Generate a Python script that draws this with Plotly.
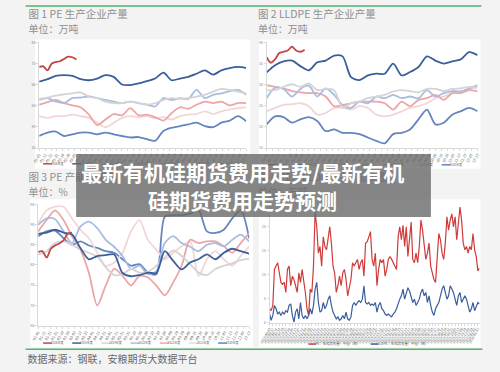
import plotly.graph_objects as go
import pandas as pd

# ---------------- data ----------------
years = ["2026年度", "2025年度", "2024年度", "2023年度", "2022年度", "2021年度", "2020年度"]
year_colors = ["#c24646", "#3c5e9b", "#d4d4d4", "#a9bde0", "#eda5a5", "#f2d6d6", "#6585bf"]

# Fig 1: PE production (万吨), biweekly (2026 weekly)
pe_2026 = [68.4, 68.7, 66.8, 69.9, 70.7, 71.1, 72.2, 73.3, 73.0, 71.9]
pe_2025 = [61.4, 62.6, 64.2, 64.5, 64.2, 62.6, 62.1, 62.9, 64.5, 63.7, 60.1, 59.8, 60.6, 61.7, 62.9, 65.7, 62.1, 62.9, 63.7, 65.2, 66.8, 64.8, 66.8, 67.9, 68.4, 67.9]
pe_2024 = [53.3, 53.9, 54.8, 55.4, 55.9, 56.4, 54.4, 53.6, 52.0, 51.3, 51.3, 52.0, 51.3, 50.5, 51.3, 52.8, 53.6, 53.3, 53.6, 54.4, 55.2, 56.7, 58.0, 57.5, 56.7, 55.9]
pe_2023 = [52.8, 53.6, 52.0, 51.3, 53.6, 53.9, 54.4, 53.6, 52.8, 52.0, 51.3, 52.0, 51.3, 50.5, 49.7, 53.6, 52.8, 53.6, 53.3, 57.5, 53.6, 55.2, 55.9, 57.0, 57.5, 55.2]
pe_2022 = [50.5, 51.7, 52.8, 51.3, 50.2, 49.3, 45.8, 40.9, 43.5, 46.1, 45.5, 48.9, 45.5, 45.8, 44.6, 43.0, 46.6, 49.3, 48.6, 50.5, 52.0, 51.3, 52.0, 50.2, 51.3, 51.3]
pe_2021 = [45.1, 44.3, 45.1, 45.1, 45.8, 45.1, 44.3, 42.0, 39.9, 42.0, 44.3, 45.1, 44.6, 45.1, 44.0, 44.6, 43.5, 45.1, 45.8, 46.1, 47.4, 46.1, 47.4, 48.2, 48.9, 49.3]
pe_2020 = [35.7, 37.3, 37.8, 35.7, 36.5, 37.3, 37.3, 36.5, 37.3, 36.5, 35.7, 35.0, 35.2, 34.2, 33.4, 38.1, 39.6, 40.4, 41.2, 42.0, 40.4, 39.9, 42.0, 43.0, 45.1, 42.7]

# Fig 2: LLDPE production (万吨)
ll_2026 = [36.5, 35.2, 36.0, 37.5, 37.8, 38.1, 39.0, 38.1, 37.8, 38.3]
ll_2025 = [32.9, 34.6, 35.5, 35.7, 34.4, 33.4, 35.3, 35.7, 36.9, 36.7, 31.8, 31.1, 32.2, 32.6, 32.6, 35.0, 32.2, 33.0, 34.2, 36.7, 35.7, 35.0, 35.5, 36.0, 37.7, 37.0]
ll_2024 = [28.7, 28.7, 29.5, 30.1, 29.5, 30.3, 28.7, 29.0, 28.7, 24.6, 25.6, 26.0, 26.8, 27.2, 27.6, 28.4, 28.7, 28.5, 28.2, 29.0, 29.0, 28.5, 29.0, 29.1, 29.5, 29.3]
ll_2023 = [26.8, 29.3, 29.0, 27.2, 29.0, 29.8, 27.2, 29.1, 27.6, 25.2, 24.5, 26.0, 25.6, 27.2, 26.8, 27.6, 26.8, 27.2, 26.8, 28.7, 27.2, 28.0, 28.5, 28.4, 29.1, 29.9]
ll_2022 = [29.9, 29.5, 29.1, 28.5, 28.2, 28.0, 28.0, 27.2, 24.9, 25.2, 25.6, 26.0, 26.0, 26.0, 25.6, 24.1, 26.0, 24.9, 26.4, 26.8, 27.6, 26.4, 28.0, 28.0, 28.7, 28.4]
ll_2021 = [23.7, 24.5, 25.2, 25.4, 25.6, 24.9, 22.9, 23.3, 24.5, 24.5, 24.1, 24.9, 24.5, 22.9, 22.5, 22.9, 23.7, 24.5, 24.9, 25.6, 26.8, 27.2, 28.0, 28.4, 29.0, 29.3]
ll_2020 = [20.6, 22.5, 22.3, 21.0, 21.8, 22.3, 21.4, 19.0, 19.4, 18.6, 18.6, 18.3, 17.5, 16.7, 16.1, 18.3, 18.6, 19.4, 21.8, 24.1, 20.6, 21.0, 22.9, 23.7, 24.5, 23.7]

# Fig 3: PE capacity utilisation (%)
ut_2026 = [83.2, 83.4, 81.8, 84.0, 84.8, 85.3, 86.1, 87.7, 88.0]
ut_2025 = [87.7, 88.0, 88.7, 88.0, 87.5, 84.2, 81.4, 82.2, 82.4, 82.6, 78.0, 77.2, 77.5, 78.1, 78.0, 83.4, 81.0, 78.9, 80.6, 81.4, 82.6, 81.4, 83.0, 84.0, 83.4, 82.8]
ut_2024 = [82.6, 83.4, 85.4, 85.8, 85.0, 83.8, 83.0, 82.0, 79.4, 77.5, 77.7, 79.0, 78.1, 78.3, 79.8, 81.8, 83.6, 82.2, 80.2, 78.1, 77.5, 79.0, 79.8, 80.4, 81.2, 81.5]
ut_2023 = [89.9, 91.5, 91.3, 88.3, 85.4, 89.5, 90.7, 89.1, 86.2, 84.5, 82.2, 79.0, 79.8, 77.7, 78.5, 85.4, 87.1, 85.4, 84.5, 83.4, 85.0, 85.4, 84.6, 86.2, 87.5, 85.8]
ut_2022 = [88.3, 91.1, 93.5, 91.1, 87.1, 83.8, 78.1, 70.0, 74.9, 79.0, 77.3, 74.9, 77.3, 76.9, 74.9, 72.5, 75.7, 79.8, 86.2, 85.4, 85.8, 85.8, 84.6, 83.0, 85.4, 87.9]
ut_2021 = [90.3, 93.5, 94.4, 94.4, 91.5, 88.7, 86.6, 83.0, 79.8, 80.6, 83.0, 88.3, 91.1, 86.2, 83.8, 81.4, 83.0, 84.6, 85.8, 77.3, 81.4, 83.4, 81.4, 79.8, 82.2, 84.6]
ut_2020 = [87.1, 88.3, 88.5, 86.6, 85.0, 85.8, 84.8, 84.2, 83.4, 83.0, 81.4, 79.8, 80.2, 78.1, 77.7, 91.9, 92.3, 92.3, 92.7, 93.5, 88.3, 87.9, 88.7, 91.5, 93.5, 86.6]

# Fig 4: maintenance loss (weekly)
loss_names = ["PE：检修损失量：中国（周）", "LLDPE：检修损失量：中国（周）"]
loss_colors = ["#cf3b3b", "#3a5d9d"]
pe_loss = [2.9, 2.5, 3.6, 11.1, 11.8, 12.5, 10.4, 8.4, 8.0, 8.4,
           6.3, 11.1, 11.8, 7.7, 9.7, 9.0, 7.7, 6.3, 10.4, 8.4,
           11.1, 9.0, 6.3, 2.9, 1.5, 7.0, 6.3, 11.8, 23.1, 20.0,
           14.5, 15.9, 11.8, 17.9, 15.9, 15.2, 17.3, 20.0, 16.6, 11.8,
           10.4, 6.3, 7.7, 9.7, 7.7, 10.4, 11.1, 9.0, 5.6, 7.7,
           9.0, 12.5, 11.8, 12.5, 13.2, 11.1, 12.5, 13.2, 9.7, 16.6,
           16.9, 17.9, 19.0, 13.2, 11.8, 14.5, 7.7, 11.1, 13.2, 12.5,
           13.2, 9.7, 11.1, 13.2, 13.8, 13.2, 12.5, 11.8, 11.1, 17.9,
           20.0, 17.3, 20.3, 15.9, 20.0, 13.8, 17.3, 21.0, 13.2, 12.5,
           14.5, 12.5, 15.9, 21.4, 19.3, 16.6, 13.2, 14.5, 16.6, 11.8,
           10.4, 9.0, 8.4, 13.2, 18.6, 17.3, 14.5, 13.2, 16.6, 22.1,
           19.3, 21.4, 22.7, 20.0, 22.1, 17.3, 20.7, 24.1, 21.4, 16.6,
           15.2, 15.9, 14.5, 15.9, 15.2, 18.6, 15.2, 13.8, 10.8, 11.4]
lldpe_loss = [1.8, 0.5, 1.5, 3.6, 2.9, 1.8, 2.2, 1.5, 2.2, 1.8,
              2.5, 2.2, 3.6, 3.9, 1.5, 0.1, 2.2, 2.9, 0.8, 4.2,
              1.5, 0.8, 1.5, 0.8, 1.5, 2.9, 1.8, 3.6, 7.0, 8.4,
              4.2, 2.2, 2.5, 4.2, 2.9, 3.6, 4.9, 5.6, 3.6, 2.2,
              1.5, 0.8, 1.2, 0.5, 0.8, 1.5, 0.8, 2.2, 0.8, 0.5,
              1.2, 3.6, 4.2, 3.6, 4.2, 4.6, 4.2, 4.9, 7.7, 4.2,
              3.9, 4.2, 3.6, 3.9, 3.6, 4.2, 2.2, 3.6, 4.2, 2.9,
              2.5, 1.8, 1.5, 1.8, 1.5, 1.2, 1.8, 2.2, 2.9, 4.2,
              4.9, 5.6, 7.0, 4.9, 6.3, 7.3, 6.6, 5.6, 4.2, 4.9,
              3.6, 4.2, 4.9, 6.3, 7.0, 5.6, 6.3, 4.2, 5.6, 3.6,
              2.2, 1.5, 2.9, 3.6, 4.2, 5.6, 7.0, 7.7, 6.3, 4.9,
              5.6, 7.7, 7.0, 6.3, 4.9, 3.6, 5.6, 6.3, 4.2, 4.9,
              5.6, 4.9, 3.6, 2.2, 2.9, 4.2, 2.5, 3.6, 4.2, 3.9]

titles = ["图 1 PE 生产企业产量", "图 2 LLDPE 生产企业产量", "图 3 PE 产能利用率", "图 4 PE、LLDPE 检修损失量"]
units = ["单位：万吨", "单位：万吨", "单位：%", "单位：万吨"]
source_text = "数据来源：钢联，安粮期货大数据平台"
overlay_lines = ["最新有机硅期货费用走势/最新有机", "硅期货费用走势预测"]

ticks_pe = [30, 40, 50, 60, 70, 80]
ticks_ll = [15, 20, 25, 30, 35, 40]
ticks_ut = [65, 70, 75, 80, 85, 90, 95]
ticks_loss = [0, 5, 10, 15, 20]

dates_bi = pd.date_range("2025-01-01", periods=26, freq="14D")
dates_wk = pd.date_range("2025-01-01", periods=10, freq="7D")
dates_loss = pd.date_range("2023-08-03", periods=len(pe_loss), freq="7D")

W, H = 500, 372
def px(x): return x / W
def py(y): return 1 - y / H

FONT = "Noto Sans CJK SC"
fig = go.Figure()

panels = [
    ("x", "y", [pe_2026, pe_2025, pe_2024, pe_2023, pe_2022, pe_2021, pe_2020]),
    ("x2", "y2", [ll_2026, ll_2025, ll_2024, ll_2023, ll_2022, ll_2021, ll_2020]),
    ("x3", "y3", [ut_2026, ut_2025, ut_2024, ut_2023, ut_2022, ut_2021, ut_2020]),
]
for xa, ya, series in panels:
    for i in range(len(years) - 1, -1, -1):
        vals = series[i]
        xs = dates_wk[:len(vals)] if i == 0 else dates_bi[:len(vals)]
        fig.add_trace(go.Scatter(x=xs, y=vals, mode="lines", xaxis=xa, yaxis=ya,
                                 line=dict(color=year_colors[i], width=1.8, shape="spline", smoothing=0.8),
                                 showlegend=False, hoverinfo="skip"))

for vals, col in zip([pe_loss, lldpe_loss], loss_colors):
    fig.add_trace(go.Scatter(x=dates_loss, y=vals, mode="lines", xaxis="x4", yaxis="y4",
                             line=dict(color=col, width=1.2), showlegend=False, hoverinfo="skip"))

# ---- pixel-coordinate helper axis for texts & legend samples (drawn below overlay) ----
def ptext(x, y, s, size, color):
    fig.add_trace(go.Scatter(x=[x], y=[y], mode="text", text=[s], textposition="middle right",
                             textfont=dict(family=FONT, size=size, color=color),
                             xaxis="x5", yaxis="y5", showlegend=False, hoverinfo="skip", cliponaxis=False))

def pline(x0, x1, y, color, width=1.5):
    fig.add_trace(go.Scatter(x=[x0, x1], y=[y, y], mode="lines", line=dict(color=color, width=width),
                             xaxis="x5", yaxis="y5", showlegend=False, hoverinfo="skip", cliponaxis=False))

title_pos = [(18, 12.5), (254, 12.5), (18, 178), (254, 178)]
for (tx, ty), t, u in zip(title_pos, titles, units):
    ptext(tx, ty, t, 10.5, "#8f8f8f")
    ptext(tx, ty + 15, u, 10, "#8f8f8f")
ptext(17, 362, source_text, 10, "#6a6a6a")

# year legends (panels 1, 2, 3)
for lx0, ly in [(33, 163), (263, 164), (33, 344.7)]:
    for i, (name, col) in enumerate(zip(years, year_colors)):
        x0 = lx0 + 30 * i
        pline(x0, x0 + 9, ly, col, 1.5)
        ptext(x0 + 8, ly, name, 3, "#666666")
# panel 4 legend
for (x0, name, col) in zip([306, 370], loss_names, loss_colors):
    pline(x0, x0 + 8, 345.7, col, 1.5)
    ptext(x0 + 7, 345.7, name, 3.4, "#666666")

# ---- axes ----
ax_common = dict(showline=True, linecolor="#d9d9d9", linewidth=1, showgrid=False, zeroline=False,
                 ticks="outside", ticklen=2, tickcolor="#d9d9d9")
yfont = dict(size=3.6, color="#888", family=FONT)
xfont = dict(size=3.8, color="#666", family=FONT)
dt10 = 10 * 86400000

layout = dict(
    width=W, height=H, margin=dict(l=0, r=0, t=0, b=0), autosize=False,
    paper_bgcolor="#f3f3f3", plot_bgcolor="rgba(0,0,0,0)", showlegend=False,
    xaxis=dict(domain=[px(29), px(242)], anchor="y", type="date", range=[dates_bi[0], dates_bi[-1]],
               dtick=dt10, tick0=dates_bi[0], tickformat="%m-%d", tickangle=-60, tickfont=xfont, **ax_common),
    yaxis=dict(domain=[py(147), py(40)], anchor="x", range=[30, 80], tickvals=ticks_pe, tickfont=yfont, **ax_common),
    xaxis2=dict(domain=[px(263), px(480)], anchor="y2", type="date", range=[dates_bi[0], dates_bi[-1]],
                dtick=dt10, tick0=dates_bi[0], tickformat="%m-%d", tickangle=-60, tickfont=xfont, **ax_common),
    yaxis2=dict(domain=[py(147), py(40)], anchor="x2", range=[15, 40], tickvals=ticks_ll, tickfont=yfont, **ax_common),
    xaxis3=dict(domain=[px(28), px(245)], anchor="y3", type="date", range=[dates_bi[0], dates_bi[-1]],
                dtick=dt10, tick0=dates_bi[0], tickformat="%m-%d", tickangle=-60, tickfont=xfont, **ax_common),
    yaxis3=dict(domain=[py(327), py(204)], anchor="x3", range=[65, 95], tickvals=ticks_ut, tickfont=yfont, **ax_common),
    xaxis4=dict(domain=[px(266), px(482)], anchor="y4", type="date", range=[dates_loss[0], dates_loss[-1]],
                dtick=14 * 86400000, tick0=dates_loss[0], tickformat="%Y-%m-%d", tickangle=-60,
                tickfont=dict(size=3.4, color="#666", family=FONT), **ax_common),
    yaxis4=dict(domain=[py(324), py(205)], anchor="x4", range=[0, 24.5], tickvals=ticks_loss, tickfont=yfont, **ax_common),
    xaxis5=dict(domain=[0, 1], anchor="y5", range=[0, W], visible=False, fixedrange=True),
    yaxis5=dict(domain=[0, 1], anchor="x5", range=[H, 0], visible=False, fixedrange=True),
)

shapes = []
for x0, y0, x1, y1 in [(25, 37, 246, 168), (255, 37, 483, 168), (20, 199, 249, 349), (255, 199, 483, 349)]:
    shapes.append(dict(type="rect", xref="paper", yref="paper", x0=px(x0), x1=px(x1), y0=py(y1), y1=py(y0),
                       fillcolor="white", line=dict(width=0), layer="below"))
for yy, xa, xb in [(3, 15, 484), (351, 15, 485)]:
    shapes.append(dict(type="line", xref="paper", yref="paper", x0=px(xa), x1=px(xb), y0=py(yy), y1=py(yy),
                       line=dict(color="#4fb56a", width=1.6), layer="above"))
shapes.append(dict(type="rect", xref="paper", yref="paper", x0=px(67), x1=px(432), y0=py(217), y1=py(153),
                   fillcolor="rgba(105,105,105,0.8)", line=dict(width=0), layer="above"))
layout["shapes"] = shapes

annotations = []
for (ty, s) in zip([171.5, 200], overlay_lines):
    annotations.append(dict(xref="paper", yref="paper", x=px(238.5), y=py(ty), text="<b>" + s + "</b>",
                            showarrow=False, xanchor="center", yanchor="middle",
                            font=dict(family=FONT, size=21, color="white")))
layout["annotations"] = annotations

fig.update_layout(**layout)
fig.write_html("out.html", config={"displayModeBar": False},
               post_script="document.body.style.margin='0';document.body.style.overflow='hidden';")
